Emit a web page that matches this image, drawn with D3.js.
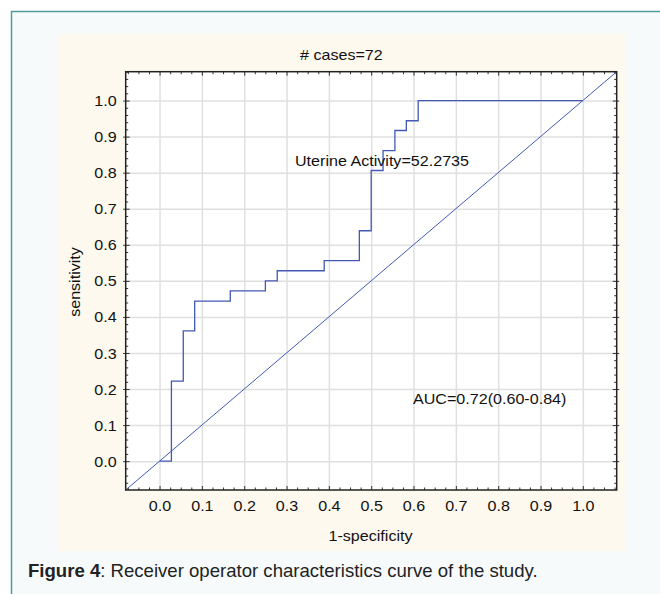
<!DOCTYPE html>
<html>
<head>
<meta charset="utf-8">
<script src="https://cdn.jsdelivr.net/npm/d3@7"></script>
<style>
    body { margin: 0; background: #ffffff; }
    svg { display: block; font-family: "Liberation Sans", Arial, sans-serif; }
</style>
</head>
<body>
<div id="view"></div>
<script>
// ROC curve vertices (1-specificity, sensitivity), drawn as steps
const fpr = [0.0, 0.028, 0.056, 0.083, 0.167, 0.250, 0.278, 0.389, 0.472, 0.500, 0.528, 0.556, 0.583, 0.611, 1.0];
const tpr = [0.0, 0.222, 0.361, 0.444, 0.472, 0.500, 0.528, 0.556, 0.639, 0.806, 0.861, 0.917, 0.944, 1.0, 1.0];
const refLine = [-0.08, 1.08];
const tickValues = [0.0, 0.1, 0.2, 0.3, 0.4, 0.5, 0.6, 0.7, 0.8, 0.9, 1.0];
const chartTitle = "# cases=72";
const cutoffLabel = "Uterine Activity=52.2735";
const aucLabel = "AUC=0.72(0.60-0.84)";
const xLabel = "1-specificity";
const yLabel = "sensitivity";
const captionBold = "Figure 4";
const captionRest = ": Receiver operator characteristics curve of the study.";

const STRETCH = 1.15; // chart text in the picture is a bit wider than Arial
const lineColor = "#4259b3";

const svg = d3.select("#view")
    .append("svg")
        .attr("width", 660)
        .attr("height", 594);

// page box and chart panel
svg.append("rect")
    .attr("x", 11.5).attr("y", 11.5)
    .attr("width", 700).attr("height", 700)
    .attr("fill", "#f7fafa")
    .attr("stroke", "#4f9c9c")
    .attr("stroke-width", 1.5);
svg.append("rect")
    .attr("x", 58).attr("y", 34)
    .attr("width", 568).attr("height", 517)
    .attr("fill", "#fdf9ee");

const plot = {left: 125.7, right: 616.7, top: 71.7, bottom: 490};
const x = d3.scaleLinear().domain([-0.08, 1.08]).range([plot.left, plot.right]);
const y = d3.scaleLinear().domain([-0.08, 1.08]).range([plot.bottom, plot.top]);
const plotW = plot.right - plot.left;
const plotH = plot.bottom - plot.top;

svg.append("rect")
    .attr("x", plot.left).attr("y", plot.top)
    .attr("width", plotW).attr("height", plotH)
    .attr("fill", "#ffffff");

// grid
svg.append("g")
    .attr("transform", `translate(0, ${plot.bottom})`)
    .call(d3.axisBottom(x).tickValues(tickValues).tickSize(-plotH).tickFormat(''))
    .call(g => g.select(".domain").remove())
    .selectAll("line").attr("stroke", "#e0e0e0").attr("stroke-width", 1.5);
svg.append("g")
    .attr("transform", `translate(${plot.left}, 0)`)
    .call(d3.axisLeft(y).tickValues(tickValues).tickSize(-plotW).tickFormat(''))
    .call(g => g.select(".domain").remove())
    .selectAll("line").attr("stroke", "#e0e0e0").attr("stroke-width", 1.5);

// frame ticks on all four sides
const xMinor = d3.range(-0.075, 1.08, 0.025).filter(v => Math.abs(Math.round(v * 10) - v * 10) > 1e-6);
const yMinor = d3.range(-0.06, 1.08, 0.02).filter(v => Math.abs(Math.round(v * 10) - v * 10) > 1e-6);

function ticks(axis, pos, values, size) {
    svg.append("g")
        .attr("transform", pos)
        .call(axis.tickValues(values).tickSizeInner(size).tickSizeOuter(0).tickFormat(''))
        .call(g => g.select(".domain").remove())
        .selectAll("line").attr("stroke", "#333").attr("stroke-width", 1);
}
ticks(d3.axisBottom(x), `translate(0, ${plot.bottom})`, tickValues, -4);
ticks(d3.axisBottom(x), `translate(0, ${plot.bottom})`, xMinor, -2.5);
ticks(d3.axisTop(x), `translate(0, ${plot.top})`, tickValues, -4);
ticks(d3.axisTop(x), `translate(0, ${plot.top})`, xMinor, -2.5);
ticks(d3.axisLeft(y), `translate(${plot.left}, 0)`, tickValues, 2.5);
ticks(d3.axisLeft(y), `translate(${plot.left}, 0)`, tickValues, -4);
ticks(d3.axisLeft(y), `translate(${plot.left}, 0)`, yMinor, -2.5);
ticks(d3.axisRight(y), `translate(${plot.right}, 0)`, tickValues, 2.5);
ticks(d3.axisRight(y), `translate(${plot.right}, 0)`, tickValues, -4);
ticks(d3.axisRight(y), `translate(${plot.right}, 0)`, yMinor, -2.5);

// reference diagonal and ROC steps
svg.append("path")
    .datum(refLine)
    .attr("fill", "none")
    .attr("stroke", lineColor)
    .attr("stroke-width", 1)
    .attr("d", d3.line().x(d => x(d)).y(d => y(d)));

svg.append("path")
    .datum(fpr.map((f, i) => [f, tpr[i]]))
    .attr("fill", "none")
    .attr("stroke", lineColor)
    .attr("stroke-width", 1.3)
    .attr("d", d3.line().x(d => x(d[0])).y(d => y(d[1])).curve(d3.curveStepAfter));

// frame
svg.append("rect")
    .attr("x", plot.left).attr("y", plot.top)
    .attr("width", plotW).attr("height", plotH)
    .attr("fill", "none")
    .attr("stroke", "#222")
    .attr("stroke-width", 1.5);

// tick labels
svg.append("g")
    .attr("transform", `translate(0, ${plot.bottom})`)
    .call(d3.axisBottom(x).tickValues(tickValues).tickSize(0).tickFormat(d3.format(".1f")))
    .call(g => g.select(".domain").remove())
    .selectAll("text")
        .attr("y", 21).attr("dy", 0)
        .attr("font-size", 14)
        .attr("font-family", "Liberation Sans, Arial, sans-serif")
        .attr("fill", "#111")
        .attr("transform", `scale(${STRETCH},1)`);
svg.append("g")
    .attr("transform", `translate(${plot.left}, 0)`)
    .call(d3.axisLeft(y).tickValues(tickValues).tickSize(0).tickFormat(d3.format(".1f")))
    .call(g => g.select(".domain").remove())
    .selectAll("text")
        .attr("x", -9 / STRETCH).attr("dy", "0.36em")
        .attr("font-size", 14)
        .attr("font-family", "Liberation Sans, Arial, sans-serif")
        .attr("fill", "#111")
        .attr("transform", `scale(${STRETCH},1)`);

function label(text, tx, ty, anchor, rotate) {
    svg.append("text")
        .attr("transform", `translate(${tx},${ty})` + (rotate ? ` rotate(${rotate})` : '') + ` scale(${STRETCH},1)`)
        .attr("text-anchor", anchor)
        .attr("font-size", 14)
        .attr("fill", "#111")
        .text(text);
}
label(chartTitle, 300, 60, "start");
label(cutoffLabel, 295, 166, "start");
label(aucLabel, 413, 404, "start");
label(xLabel, 370.5, 541, "middle");
label(yLabel, 79.5, 282, "middle", -90);

// caption, fitted to the width it has in the picture
const caption = svg.append("text")
    .attr("font-size", 18)
    .attr("fill", "#222");
caption.append("tspan").attr("font-weight", "bold").text(captionBold);
caption.append("tspan").text(captionRest);
const capWidth = caption.node().getBBox().width;
caption.attr("transform", `translate(28,577) scale(${510 / capWidth},1)`);
</script>
</body>
</html>
